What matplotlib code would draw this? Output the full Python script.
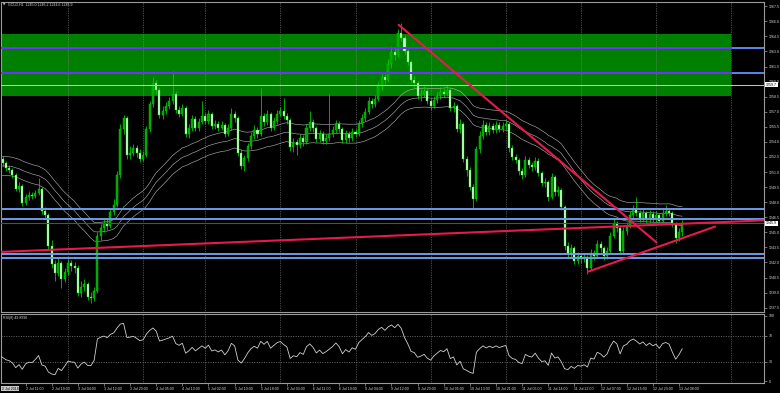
import matplotlib
matplotlib.use("Agg")
import matplotlib.pyplot as plt
import matplotlib.transforms as mtransforms
from matplotlib.patches import Rectangle

W, H = 780, 393

# ---------------- data (GOLD, H1) ----------------
symbol = "GOLD,H1"
first_open = 1252.9
closes = [
    1252.3, 1251.9, 1251.4, 1251.2, 1250.7, 1249.3, 1249.6, 1247.9, 1248.5, 1248.7,
    1248.6, 1248.9, 1249.3, 1247.1, 1246.7, 1243.6, 1241.8, 1241.0, 1241.9, 1240.4,
    1241.1, 1241.9, 1241.6, 1241.5, 1239.0, 1239.6, 1239.9, 1238.6, 1238.5, 1239.2,
    1244.6, 1245.4, 1245.9, 1245.6, 1247.0, 1247.7, 1250.7, 1255.3, 1256.4, 1252.7,
    1252.9, 1253.4, 1252.9, 1252.3, 1252.7, 1255.3, 1257.8, 1259.9, 1259.2, 1256.7,
    1257.1, 1257.6, 1258.1, 1258.8, 1257.2, 1256.8, 1257.4, 1254.8, 1255.4, 1256.3,
    1255.4, 1256.0, 1256.6, 1256.1, 1256.8, 1255.6, 1255.8, 1255.4, 1255.7, 1254.8,
    1255.4, 1256.8, 1256.4, 1252.9, 1251.6, 1252.4, 1253.6, 1254.6, 1255.2, 1254.8,
    1256.6, 1256.0, 1256.8, 1255.4, 1256.1, 1256.8, 1257.1, 1256.6, 1256.2, 1253.5,
    1254.0, 1253.7, 1254.4, 1254.0, 1255.4, 1256.0, 1255.4, 1254.3, 1254.8, 1254.1,
    1254.4, 1254.8, 1255.2, 1255.8, 1255.3, 1254.2, 1254.8, 1254.4, 1255.0, 1254.8,
    1255.8, 1256.4, 1257.0, 1258.1, 1257.8, 1258.3, 1259.6, 1260.5, 1260.2, 1261.7,
    1262.9, 1262.6, 1264.8, 1264.3, 1263.0, 1261.9, 1260.2, 1259.9, 1258.6, 1258.8,
    1259.1, 1258.1, 1257.6, 1258.2, 1258.6, 1259.0, 1258.8, 1259.2, 1257.4, 1257.6,
    1255.3, 1255.8, 1252.3, 1251.2, 1249.5, 1248.3, 1253.3, 1254.6, 1255.7, 1255.0,
    1255.6, 1255.2, 1255.7, 1255.3, 1255.6, 1255.8, 1253.4, 1252.5, 1252.2, 1251.1,
    1250.7, 1252.2, 1251.7, 1251.5, 1252.1, 1250.9, 1249.9, 1250.0, 1248.5, 1250.5,
    1249.0, 1249.2, 1247.5, 1243.6, 1242.8, 1243.4, 1242.1, 1242.6, 1242.3, 1242.5,
    1241.5, 1242.9, 1242.6, 1243.8, 1243.4, 1242.6, 1243.1, 1244.6, 1245.9, 1245.4,
    1243.1, 1245.1, 1245.6, 1246.7, 1247.3, 1246.9, 1246.4, 1246.9, 1246.3, 1246.8,
    1246.4, 1246.7, 1246.1, 1246.9, 1247.1, 1246.9, 1245.8, 1244.4, 1245.0, 1245.9,
]
highs = [
    1253.5, 1252.6, 1252.1, 1251.7, 1251.4, 1250.9, 1250.0, 1249.8, 1248.8, 1249.1,
    1249.0, 1249.2, 1250.4, 1249.5, 1247.5, 1246.9, 1244.2, 1242.2, 1242.4, 1242.1,
    1241.5, 1242.3, 1242.2, 1242.0, 1241.7, 1240.2, 1240.4, 1240.1, 1239.1, 1239.6,
    1245.0, 1245.8, 1246.4, 1246.3, 1247.3, 1248.3, 1251.1, 1255.8, 1256.7, 1256.6,
    1253.6, 1253.8, 1253.7, 1253.3, 1253.1, 1255.6, 1258.1, 1260.5, 1260.2, 1259.5,
    1257.6, 1258.0, 1258.5, 1261.1, 1259.1, 1257.6, 1257.8, 1257.6, 1255.8, 1256.7,
    1256.6, 1256.4, 1258.1, 1256.9, 1257.2, 1257.0, 1256.2, 1256.1, 1256.1, 1255.9,
    1255.8, 1257.4, 1257.1, 1256.6, 1253.3, 1252.7, 1253.9, 1255.0, 1255.7, 1255.5,
    1259.4, 1256.9, 1257.2, 1257.0, 1256.5, 1257.2, 1257.5, 1258.4, 1256.9, 1256.4,
    1254.4, 1254.3, 1254.8, 1254.7, 1255.8, 1257.1, 1256.3, 1255.6, 1255.2, 1255.1,
    1254.8, 1258.8, 1255.6, 1256.2, 1256.1, 1255.5, 1255.2, 1255.1, 1255.4, 1255.3,
    1256.2, 1256.8, 1257.4, 1258.5, 1258.4, 1258.7, 1260.0, 1260.9, 1260.8, 1262.2,
    1263.5, 1263.3, 1265.2, 1265.8, 1264.6, 1263.2, 1262.1, 1260.6, 1260.1, 1259.3,
    1259.6, 1259.4, 1258.4, 1258.6, 1259.0, 1259.5, 1259.4, 1259.7, 1259.5, 1258.0,
    1257.8, 1256.3, 1256.0, 1252.6, 1251.5, 1249.8, 1253.6, 1255.1, 1256.2, 1256.0,
    1256.0, 1255.9, 1256.1, 1256.0, 1256.0, 1256.2, 1256.0, 1253.7, 1252.8, 1252.4,
    1251.4, 1252.6, 1252.5, 1252.0, 1252.5, 1252.4, 1251.1, 1250.4, 1250.2, 1250.9,
    1250.7, 1249.6, 1249.4, 1247.7, 1244.0, 1243.8, 1243.6, 1243.0, 1242.9, 1242.9,
    1242.7, 1243.3, 1243.2, 1244.2, 1244.1, 1243.6, 1243.5, 1245.0, 1246.4, 1246.1,
    1245.6, 1245.5, 1246.0, 1247.1, 1247.7, 1248.5, 1247.2, 1247.3, 1247.1, 1247.2,
    1247.1, 1247.1, 1246.9, 1247.3, 1247.7, 1247.4, 1247.1, 1246.0, 1245.4, 1246.2,
]
lows = [
    1252.0, 1251.6, 1251.1, 1250.9, 1250.4, 1249.1, 1249.0, 1247.6, 1247.7, 1248.2,
    1248.3, 1248.4, 1248.7, 1246.8, 1246.3, 1243.3, 1241.5, 1240.2, 1240.7, 1239.5,
    1240.1, 1240.8, 1241.2, 1241.0, 1238.7, 1238.6, 1239.2, 1238.3, 1238.0, 1238.2,
    1239.0, 1244.2, 1245.0, 1245.2, 1245.4, 1246.7, 1247.5, 1250.4, 1254.8, 1252.3,
    1252.3, 1252.6, 1252.5, 1252.0, 1252.1, 1252.5, 1255.0, 1257.5, 1258.8, 1256.4,
    1256.3, 1256.8, 1257.3, 1257.8, 1256.9, 1256.5, 1256.6, 1254.5, 1254.4, 1255.1,
    1255.1, 1255.1, 1255.8, 1255.8, 1255.8, 1255.3, 1255.3, 1255.1, 1255.2, 1254.5,
    1254.6, 1255.2, 1256.0, 1252.6, 1251.3, 1251.1, 1252.1, 1253.3, 1254.3, 1254.4,
    1254.6, 1255.6, 1255.7, 1255.1, 1255.2, 1255.8, 1256.6, 1256.3, 1255.8, 1253.1,
    1253.0, 1252.7, 1253.4, 1253.6, 1253.8, 1255.1, 1255.0, 1254.0, 1254.0, 1253.8,
    1253.8, 1254.1, 1254.5, 1254.9, 1255.0, 1253.9, 1253.9, 1254.0, 1254.1, 1254.5,
    1254.6, 1255.5, 1256.1, 1256.8, 1257.4, 1257.5, 1258.1, 1259.2, 1259.8, 1260.0,
    1261.4, 1262.1, 1262.4, 1264.0, 1262.7, 1261.6, 1259.9, 1259.5, 1258.3, 1258.1,
    1258.5, 1257.8, 1257.2, 1257.4, 1257.9, 1258.3, 1258.5, 1258.6, 1257.1, 1257.0,
    1255.0, 1254.9, 1252.0, 1250.6, 1249.2, 1247.4, 1248.1, 1252.9, 1254.3, 1254.7,
    1254.7, 1254.9, 1254.9, 1255.0, 1255.0, 1255.3, 1253.0, 1252.2, 1251.9, 1250.7,
    1250.3, 1250.5, 1251.4, 1251.1, 1251.2, 1250.6, 1249.6, 1249.5, 1248.1, 1248.3,
    1248.6, 1248.6, 1247.2, 1243.2, 1242.4, 1242.5, 1241.8, 1241.8, 1241.9, 1242.0,
    1240.9, 1241.3, 1242.2, 1242.4, 1243.0, 1242.2, 1242.3, 1242.9, 1244.4, 1245.0,
    1242.8, 1242.9, 1244.7, 1245.4, 1246.4, 1246.6, 1246.0, 1246.0, 1245.9, 1245.9,
    1246.0, 1246.0, 1245.8, 1245.9, 1246.6, 1246.6, 1245.5, 1243.9, 1244.1, 1244.6,
]
opens = [first_open] + closes[:-1]

# trading sessions: (day label, first hour, last hour)
sessions = [("2 Jul", 3, 23), ("3 Jul", 1, 23), ("4 Jul", 1, 19), ("5 Jul", 1, 23),
            ("6 Jul", 1, 23), ("9 Jul", 1, 23), ("10 Jul", 1, 23), ("11 Jul", 1, 23),
            ("12 Jul", 1, 23), ("13 Jul", 1, 9)]
first_date_label = "2 Jul 2018"
time_labels = ["2 Jul 11:00", "2 Jul 19:00", "3 Jul 04:00", "3 Jul 12:00", "3 Jul 20:00",
               "4 Jul 05:00", "4 Jul 13:00", "5 Jul 02:00", "5 Jul 10:00", "5 Jul 18:00",
               "6 Jul 03:00", "6 Jul 11:00", "6 Jul 19:00", "9 Jul 04:00", "9 Jul 12:00",
               "9 Jul 20:00", "10 Jul 05:00", "10 Jul 13:00", "10 Jul 21:00", "11 Jul 06:00",
               "11 Jul 14:00", "11 Jul 22:00", "12 Jul 07:00", "12 Jul 15:00", "12 Jul 23:00",
               "13 Jul 08:00"]
price_ticks = [1267.5, 1266.0, 1264.5, 1263.0, 1261.5, 1260.0, 1258.5, 1257.0, 1255.5,
               1254.0, 1252.5, 1251.0, 1249.5, 1248.0, 1246.5, 1245.0, 1243.5, 1242.0,
               1240.5, 1239.0, 1237.5]
rsi_ticks = [100, 70, 30, 0]

# chart objects
zone_prices = [1258.55, 1264.7]           # green rectangle (bottom, top)
zone_lines = [1263.3, 1260.9]             # lines inside the zone
blue_levels = [1247.3, 1246.3, 1242.8, 1242.4]
silver_level = 1259.7
flat_trend = [(0.2, 1243.05), (223.6, 1246.05)]     # (bar, price) ray to the right
down_trend = [(122.0, 1265.7), (201.3, 1243.95)]
up_trend = [(179.9, 1241.05), (219.3, 1245.6)]

ema_period = 40
ema_seed = 1251.55
env_dev = 0.00075
rsi_period = 8
rsi_seed_gain, rsi_seed_loss = 0.32, 0.40

# ---------------- derived series ----------------
bar_times = []
day_starts = []
for day, h0, h1 in sessions:
    day_starts.append(len(bar_times))
    for hr in range(h0, h1 + 1):
        bar_times.append(f"{day} {hr:02d}:00")
day_starts = day_starts[1:] + [day_starts[-1] + 23]
n = len(closes)
idx = list(range(n))

ema = []
e = ema_seed
for c in closes:
    e = e + 2.0 / (ema_period + 1) * (c - e)
    ema.append(e)
env_up = [v * (1 + env_dev) for v in ema]
env_dn = [v * (1 - env_dev) for v in ema]

rsi = []
ag, al = rsi_seed_gain, rsi_seed_loss
prev = first_open
for c in closes:
    d = c - prev
    ag = (ag * (rsi_period - 1) + max(d, 0)) / rsi_period
    al = (al * (rsi_period - 1) + max(-d, 0)) / rsi_period
    rsi.append(100 - 100 / (1 + ag / al) if al > 0 else 100)
    prev = c

# ---------------- figure ----------------
PX_BAR, PX_OFF = 3.267, -0.6
Y_PX_PER, Y_REF_P, Y_REF_PX = 10.05, 1267.5, 6.2

fig = plt.figure(figsize=(W / 100, H / 100), dpi=100, facecolor="black")


def px_axes(x0, y0, x1, y1):
    return fig.add_axes([x0 / W, 1 - y1 / H, (x1 - x0) / W, (y1 - y0) / H])


ax = px_axes(1, 2, 764, 312)
axr = px_axes(1, 314, 764, 383)
xl = ((1 - PX_OFF) / PX_BAR, (764 - PX_OFF) / PX_BAR)
for a in (ax, axr):
    a.set_facecolor("black")
    a.set_xlim(*xl)
    for s in a.spines.values():
        s.set_color("#9a9a9a")
        s.set_linewidth(0.8)
ax.set_ylim(Y_REF_P - (312 - Y_REF_PX) / Y_PX_PER, Y_REF_P + (Y_REF_PX - 2) / Y_PX_PER)
axr.set_ylim(-2.3, 103.05)

FONT = "Liberation Sans"
FS = 2.6
TXT = "#d8d8d8"

# green zone
zone_right = day_starts[-1]
ax.add_patch(Rectangle((xl[0] - 5, zone_prices[0]), zone_right - xl[0] + 5,
                       zone_prices[1] - zone_prices[0], facecolor="#008000",
                       edgecolor="none", zorder=0))

# vertical dotted grid (day separators)
for a in (ax, axr):
    for d in day_starts:
        a.axvline(d, color="#8a8a8a", linestyle=(0, (1, 1.5)), linewidth=0.5, zorder=1)
for lv in (30, 70):
    axr.axhline(lv, color="#8a8a8a", linestyle=(0, (1.5, 2)), linewidth=0.5, zorder=1)

# envelope
for series in (env_up, ema, env_dn):
    ax.plot(idx, series, color="#a8a8a8", linewidth=0.45, zorder=2)

# candles
for i in idx:
    o, c, hi, lo = opens[i], closes[i], highs[i], lows[i]
    top, bot = max(hi, o, c), min(lo, o, c)
    ax.vlines(i, bot, top, color="#00d800", linewidth=0.55, zorder=3)
    body = max(abs(c - o), 0.06)
    if c >= o:
        ax.bar(i, body, bottom=min(o, c), width=0.62, color="#00a400",
               edgecolor="#00d800", linewidth=0.3, zorder=4)
    else:
        ax.bar(i, body, bottom=min(o, c), width=0.62, color="#d8ffd8",
               edgecolor="#00d800", linewidth=0.3, zorder=4)

# horizontal lines
ax.axhline(silver_level, color="#c8c8c8", linewidth=0.7, zorder=5)
ax.axhline(closes[-1], color="#505050", linewidth=0.8, zorder=5)
for lv in zone_lines:
    ax.axhline(lv, color="#5b86f0", linewidth=1.4, zorder=5)
    ax.plot([xl[0] - 5, zone_right], [lv, lv], color="#7030ff", linewidth=1.4, zorder=5)
for lv in blue_levels:
    ax.axhline(lv, color="#6b9be8", linewidth=1.4, zorder=5)

# trend lines
RED = "#e8194e"
(x1, y1), (x2, y2) = flat_trend
slope = (y2 - y1) / (x2 - x1)
ax.plot([x1, xl[1]], [y1, y1 + slope * (xl[1] - x1)], color=RED, linewidth=1.5, zorder=6,
        solid_capstyle="butt")
for (xa, ya), (xb, yb) in (down_trend, up_trend):
    ax.plot([xa, xb], [ya, yb], color=RED, linewidth=1.5, zorder=6, solid_capstyle="butt")

# RSI
axr.plot(idx, rsi, color="#d0d0d0", linewidth=0.6, zorder=3)

# axes ticks
ax.yaxis.tick_right()
ax.set_yticks(price_ticks)
ax.set_yticklabels([f"{v:.1f}" for v in price_ticks])
ax.set_xticks([])
axr.yaxis.tick_right()
axr.set_yticks(rsi_ticks)
axr.set_yticklabels([str(v) for v in rsi_ticks])
label_pos = [bar_times.index(t) for t in time_labels]
axr.set_xticks(label_pos)
axr.set_xticklabels(time_labels)
for a in (ax, axr):
    a.tick_params(axis="both", colors="#9a9a9a", labelcolor=TXT, labelsize=FS,
                  length=2, width=0.5, pad=1.2)
    for t in a.get_yticklabels() + a.get_xticklabels():
        t.set_fontfamily(FONT)
for t in axr.get_xticklabels():
    t.set_ha("left")

# price boxes on the right axis
btr = mtransforms.blended_transform_factory(ax.transAxes, ax.transData)
for lv in (silver_level, closes[-1]):
    ax.text(1.0 + 2 / 763, lv, f"{lv:.1f}", transform=btr, fontsize=FS, family=FONT,
            color="black", va="center", ha="left", zorder=10, clip_on=False,
            bbox=dict(facecolor="white", edgecolor="none", pad=0.5))

# first date box
fig.text(1.5 / W, 1 - 388.5 / H, first_date_label, fontsize=FS, family=FONT, color="black",
         va="center", ha="left",
         bbox=dict(facecolor="#c8c8c8", edgecolor="none", pad=0.6))

# headers
hdr = f"{symbol}  {opens[-1]:.1f} {highs[-1]:.1f} {lows[-1]:.1f} {closes[-1]:.1f}"
fig.text(3 / W, 1 - 5 / H, "\u25bc", fontsize=2.2, color=TXT, va="center", ha="left")
fig.text(8 / W, 1 - 5 / H, hdr, fontsize=FS, family=FONT, color=TXT, va="center", ha="left")
fig.text(3 / W, 1 - 318.5 / H, f"RSI({rsi_period}) {rsi[-1]:.4f}", fontsize=FS, family=FONT,
         color=TXT, va="center", ha="left")

fig.savefig("out.png", dpi=100, facecolor="black")
